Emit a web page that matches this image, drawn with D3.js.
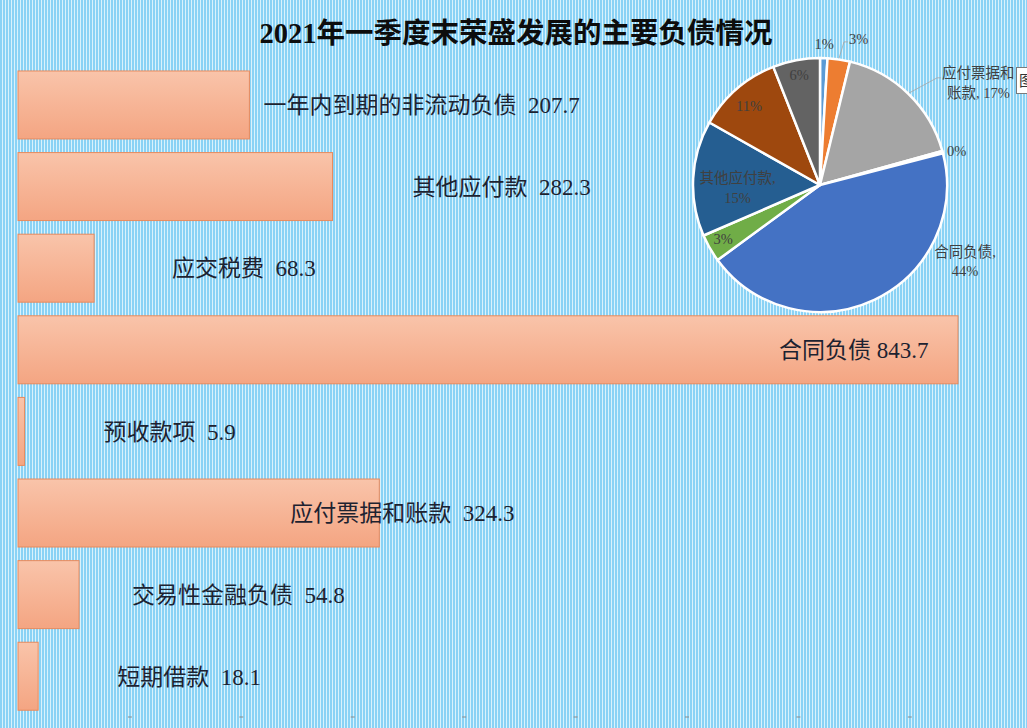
<!DOCTYPE html>
<html>
<head>
<meta charset="utf-8">
<script src="https://cdn.jsdelivr.net/npm/d3@7/dist/d3.min.js"></script>
<style>
  body{margin:0;background:#fff;}
  svg{display:block;}
  text{white-space:pre;}
</style>
</head>
<body>
<script>
// bar data, listed bottom to top like the source sheet
var categories=['短期借款','交易性金融负债','应付票据和账款','预收款项','合同负债','应交税费','其他应付款','一年内到期的非流动负债'];
var values=[18.1,54.8,324.3,5.9,843.7,68.3,282.3,207.7];
var labelGap=['  ','  ','  ','  ',' ','  ','  ','  '];
var tickValues=[100,200,300,400,500,600,700,800];

// pie data (same order, plus one slice not in the bars)
var pieNames=categories.concat(['其他']);
var pieValues=values.concat([115]);
var pieLabels=['1%','3%','应付票据和\n账款, 17%','0%','合同负债,\n44%','3%','其他应付款,\n15%','11%','6%'];
var pieColors=['#5b9bd5','#ed7d31','#a5a5a5','#ffc000','#4472c4','#70ad47','#255e91','#9e480e','#636363'];

// layout tweaks for labels
var barLabelDx=[79,53,-89,79,-179,78,80,14];
var pieLabelPos=[[0,1.115],[6.3,1.19],[13.1,1.484],[1,1.108],[-36.9,1.29],[0.7,0.874],[-5.1,0.65],[-0.9,0.836],[0,0.88]];
var pieLeader=[null,3,-5,null,null,null,null,null,null]; // y offset of leader end, relative to label centre

var width=1027,height=728;
var svg=d3.select('body').append('svg')
  .attr('width',width)
  .attr('height',height);

// striped background
var defs=svg.append('defs');
var pat=defs.append('pattern')
  .attr('id','stripes')
  .attr('width',3).attr('height',10)
  .attr('patternUnits','userSpaceOnUse');
pat.append('rect').attr('width',3).attr('height',10).attr('fill','#8ad2f5');
pat.append('rect').attr('x',2).attr('width',1).attr('height',10).attr('fill','#d9f2fc');

var grad=defs.append('linearGradient')
  .attr('id','barFill')
  .attr('x1',0).attr('y1',0).attr('x2',0).attr('y2',1);
grad.append('stop').attr('offset','0%').attr('stop-color','#f9c4aa');
grad.append('stop').attr('offset','100%').attr('stop-color','#f4a582');

svg.append('rect')
  .attr('width',width).attr('height',height)
  .attr('fill','url(#stripes)');

// bars
var x=d3.scaleLinear().domain([0,843.7]).range([18,958]);
var y=d3.scaleBand()
  .domain(categories.slice().reverse())
  .range([64.2,717])
  .paddingInner(0.167)
  .paddingOuter(0.083);

svg.append('g').selectAll('rect')
  .data(categories)
  .enter()
  .append('rect')
  .attr('x',x(0))
  .attr('y',d=>y(d))
  .attr('width',(d,i)=>x(values[i])-x(0))
  .attr('height',y.bandwidth())
  .attr('fill','url(#barFill)')
  .attr('stroke','#e98a5c')
  .attr('stroke-width',1);

svg.append('g').selectAll('text')
  .data(categories)
  .enter()
  .append('text')
  .attr('x',(d,i)=>x(values[i])+barLabelDx[i])
  .attr('y',d=>y(d)+y.bandwidth()/2)
  .attr('dy','0.36em')
  .attr('font-family','"Liberation Serif","Noto Sans CJK SC",serif')
  .attr('font-size',23)
  .attr('fill','#1d2230')
  .text((d,i)=>d+labelGap[i]+values[i]);

// value axis: only small dashes at the bottom
var axis=d3.axisBottom(x).tickValues(tickValues).tickSize(0).tickFormat('');
var axisG=svg.append('g')
  .attr('transform','translate(0,717)')
  .call(axis);
axisG.select('.domain').remove();
axisG.selectAll('.tick').append('line')
  .attr('x1',-2).attr('x2',2)
  .attr('stroke','#8a8a8a')
  .attr('stroke-width',1);

// title
svg.append('text')
  .attr('x',516)
  .attr('y',43)
  .attr('text-anchor','middle')
  .attr('font-family','"Liberation Serif","Noto Sans CJK SC",serif')
  .attr('font-weight','bold')
  .attr('font-size',28.5)
  .attr('fill','#0d0d0d')
  .text('2021年一季度末荣盛发展的主要负债情况');

// pie
var cx=820,cy=185,R=127;
var pie=d3.pie().sort(null).value(d=>d);
var arcs=pie(pieValues);
var arc=d3.arc().innerRadius(0).outerRadius(R);
var pieG=svg.append('g').attr('transform','translate('+cx+','+cy+')');

pieG.selectAll('path')
  .data(arcs)
  .enter()
  .append('path')
  .attr('d',arc)
  .attr('fill',(d,i)=>pieColors[i])
  .attr('stroke','#ffffff')
  .attr('stroke-width',2.5)
  .attr('stroke-linejoin','round');

var labelG=pieG.selectAll('g.lbl')
  .data(arcs)
  .enter()
  .append('g')
  .attr('class','lbl');

labelG.each(function(d,i){
  var mid=(d.startAngle+d.endAngle)/2;
  var a=mid+pieLabelPos[i][0]*Math.PI/180;
  var r=R*pieLabelPos[i][1];
  var lx=r*Math.sin(a),ly=-r*Math.cos(a);
  var lines=pieLabels[i].split('\n');
  var t=d3.select(this).append('text')
    .attr('text-anchor','middle')
    .attr('font-family','"Liberation Serif","Noto Sans CJK SC",serif')
    .attr('font-size',14.5)
    .attr('fill','#404040');
  lines.forEach(function(line,k){
    t.append('tspan')
      .attr('x',lx)
      .attr('y',ly+(k-(lines.length-1)/2)*19.5)
      .attr('dy','0.35em')
      .text(line);
  });
  if(pieLeader[i]!=null){
    var box=t.node().getBBox();
    var sx=(R+1)*Math.sin(mid),sy=-(R+1)*Math.cos(mid);
    var ey=ly+pieLeader[i];
    d3.select(this).insert('polyline','text')
      .attr('points',[[sx,sy],[box.x-5,ey],[box.x-1,ey]].map(p=>p.join(',')).join(' '))
      .attr('fill','none')
      .attr('stroke','#a6a6a6')
      .attr('stroke-width',0.8);
  }
});

// chart-area tooltip remnant at right edge
var tip=svg.append('g');
tip.append('rect')
  .attr('x',1016.5).attr('y',67.5)
  .attr('width',30).attr('height',26)
  .attr('fill','#ffffff')
  .attr('stroke','#7a7a7a');
tip.append('text')
  .attr('x',1019).attr('y',86)
  .attr('font-family','"Noto Sans CJK SC",sans-serif')
  .attr('font-size',15)
  .attr('fill','#333')
  .text('图');
</script>
</body>
</html>
